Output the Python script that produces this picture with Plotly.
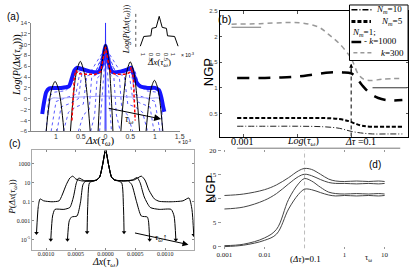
import plotly.graph_objects as go

W, H = 415, 272
def px(x): return x / W
def py(y): return 1 - y / H

SERIF = "Liberation Serif, DejaVu Serif, serif"
SANS = "Liberation Sans, Arial, sans-serif"

# ---------------- Panel (a) data (x in units of 1e-3) ----------------
a_black_x = [-1.20, -1.146, -1.092, -1.02, -0.948, -0.894, -0.84, None,
             -0.71, -0.65, -0.59, -0.51, -0.43, -0.37, -0.31, None,
             -0.15, -0.105, -0.06, 0.0, 0.06, 0.105, 0.15, None,
             0.31, 0.367, 0.424, 0.50, 0.576, 0.633, 0.69, None,
             0.82, 0.871, 0.922, 0.99, 1.058, 1.109, 1.16]
a_black_y = [-6, -1.3, 1.7, 3.2, 1.7, -1.3, -6, None,
             -6, 0.6, 4.8, 6.9, 4.8, 0.6, -6, None,
             -6, 2.2, 7.4, 10.0, 7.4, 2.2, -6, None,
             -6, 0.5, 4.75, 6.8, 4.75, 0.5, -6, None,
             -6, -1.2, 1.9, 3.4, 1.9, -1.2, -6]

a_blue_x = [-1.28, -1.25, -1.2, -1.14, -1.05, -0.9, -0.74, -0.68, -0.63, -0.58, -0.45, -0.3, -0.15,
            -0.08, -0.03, 0, 0.03, 0.08, 0.15, 0.3, 0.45, 0.52, 0.57, 0.63, 0.7, 0.85, 1.0, 1.08,
            1.13, 1.16, 1.19]
a_blue_y = [-2.8, -1.0, 1.2, 1.9, 2.0, 2.0, 2.3, 3.8, 5.2, 5.7, 5.4, 5.0, 4.9, 6.0, 8.5, 9.8, 8.5,
            6.0, 4.9, 5.0, 5.4, 5.7, 4.4, 3.0, 2.3, 2.0, 2.0, 1.6, 0.2, -1.2, -2.4]

a_red_x = [-0.68, -0.66, -0.63, -0.6, -0.55, -0.4, -0.2, -0.1, -0.05, 0, 0.05, 0.1, 0.2, 0.4,
           0.48, 0.52, 0.56, 0.58, 0.6]
a_red_y = [-4, 0, 4, 5.2, 4.6, 4.5, 4.5, 5, 7, 9.5, 7, 5, 4.5, 4.5, 4.8, 5.8, 4, 0, -4]

a_dot_x = [
    [-1.2, -1.15, -1.05, -0.8, -0.66, -0.6, -0.5, -0.3, -0.1, 0, 0.1, 0.3, 0.5, 0.6, 0.66, 0.8, 1.05, 1.12, 1.15],
    [-1.1, -1.0, -0.8, -0.6, -0.52, -0.4, -0.2, 0, 0.2, 0.4, 0.52, 0.6, 0.8, 1.0, 1.1],
    [-0.98, -0.9, -0.7, -0.55, -0.48, -0.3, 0, 0.3, 0.48, 0.55, 0.7, 0.9, 0.98],
    [-0.85, -0.75, -0.6, -0.45, -0.38, -0.2, 0, 0.2, 0.38, 0.45, 0.6, 0.75, 0.85],
    [-0.55, -0.45, -0.33, -0.28, -0.15, 0, 0.15, 0.28, 0.33, 0.45, 0.55],
    [-0.3, -0.22, -0.17, -0.1, 0, 0.1, 0.17, 0.22, 0.3],
    [-0.12, -0.08, -0.04, 0, 0.04, 0.08, 0.12],
]
a_dot_y = [
    [-6, 0.3, 1.2, 1.5, 3, 5, 5.2, 5, 5.2, 9.6, 5.2, 5, 5.2, 5, 3, 1.5, 1.2, 0.3, -6],
    [-6, -0.5, 0.2, 0.8, 4.8, 5.1, 5, 9.5, 5, 5.1, 4.8, 0.8, 0.2, -0.5, -6],
    [-6, -1.5, -0.8, 0, 4.5, 5, 9.4, 5, 4.5, 0, -0.8, -1.5, -6],
    [-6, -2.5, -1.5, -1, 4.2, 4.8, 9.3, 4.8, 4.2, -1, -1.5, -2.5, -6],
    [-6, -3, -2, 4, 4.6, 9.2, 4.6, 4, -2, -3, -6],
    [-6, -3, 3.8, 4.4, 9, 4.4, 3.8, -3, -6],
    [-6, -1, 5, 8.8, 5, -1, -6],
]
a_lav_x = [-1.15, -1.1, -0.9, -0.6, -0.3, 0, 0.3, 0.6, 0.9, 1.1, 1.15]
a_lav_y = [-3, 0, 0.1, 0.3, 0.4, 0.5, 0.4, 0.3, 0.1, 0, -3]
a_spike_x = [-0.01, 0, 0.01]
a_spike_y = [-6, 14, -6]

a_xticks = [-1, -0.5, 0, 0.5, 1, 1.5]
a_xticktext = ["1", "0.5", "0", "0.5", "1", "1.5"]

inset_x = [-1.25, -1.02, -0.55, -0.48, -0.2, -0.1, 0, 0.1, 0.2, 0.48, 0.55, 1.02, 1.25]
inset_y = [0, 3, 3.2, 5.5, 5.8, 7.5, 9.2, 7.5, 5.8, 5.5, 3.2, 3, 0]
inset_xticks = [-1, -0.5, 0, 0.5, 1]
inset_xticktext = ["1", "0.5", "0", "0.5", "1"]

# ---------------- Panel (b) data ----------------
b_n10_x = [0.00075, 0.003, 0.01, 0.03, 0.06, 0.1, 0.15, 0.25, 0.5, 0.9]
b_n10_y = [0.25, 0.25, 0.25, 0.24, 0.21, 0.15, 0.12, 0.1, 0.1, 0.1]
b_n5_x = [0.00075, 0.003, 0.01, 0.03, 0.06, 0.09, 0.12, 0.16, 0.25, 0.5, 0.9]
b_n5_y = [0.41, 0.41, 0.41, 0.41, 0.39, 0.35, 0.3, 0.26, 0.24, 0.24, 0.24]
b_k1000_x = [0.00075, 0.002, 0.005, 0.01, 0.02, 0.04, 0.07, 0.1, 0.12, 0.16, 0.22, 0.32, 0.45, 0.6, 0.9]
b_k1000_y = [1.19, 1.19, 1.2, 1.22, 1.26, 1.3, 1.3, 1.28, 1.22, 1.05, 0.9, 0.8, 0.76, 0.75, 0.76]
b_k300_x = [0.00059, 0.002, 0.006, 0.0126, 0.025, 0.039, 0.059, 0.089, 0.105, 0.135, 0.17, 0.23, 0.39, 0.89]
b_k300_y = [2.24, 2.25, 2.27, 2.26, 2.18, 2.03, 1.87, 1.65, 1.53, 1.27, 1.17, 1.14, 1.17, 1.18]
b_ref1_x = [0.00059, 0.0021]
b_ref1_y = [2.18, 2.18]
b_ref2_x = [0.25, 1.1]
b_ref2_y = [1.0, 1.0]
b_vline_x = [0.1, 0.1]
b_vline_y = [0.05, 1.45]
b_ytick = [0.5, 1, 1.5, 2, 2.5]
b_xtick = [0.001, 0.01, 0.1]
b_xticktext = ["0.001", "<i>Log</i>(<i>τ<sub>ω</sub></i>)", "<i>Δτ</i> =0.1"]

# ---------------- Panel (c) data (log10 P values) ----------------
c1_x = [-0.00116, -0.00113, -0.00110, -0.00104, -0.00090, -0.00078, -0.00073, -0.00066, -0.00060,
        -0.00055, -0.00050, -0.00040, -0.00025, -0.00015, -0.00010, -0.00005, 0, 0.00005, 0.00010,
        0.00015, 0.00030, 0.00048, 0.00060, 0.00066, 0.00073, 0.00082, 0.00090, 0.00110, 0.00130,
        0.00140, 0.00145, 0.00148]
c1_y = [-4.3, -1.5, -0.7, -0.9, -1.0, -0.9, -0.3, 0.8, 1.5, 1.7, 1.4, 1.2, 1.2, 1.3, 1.6, 2.9, 4.45,
        2.9, 1.6, 1.3, 1.2, 1.3, 1.7, 1.3, 0.2, -0.7, -0.95, -1.0, -0.9, -0.6, -1.8, -4.5]
c2_x = [-0.00092, -0.00089, -0.00085, -0.00070, -0.00060, -0.00054, -0.00049, -0.00045, -0.00035,
        -0.00020, -0.00015, -0.0001, -0.00005, 0, 0.00005, 0.0001, 0.00015, 0.0003, 0.00045,
        0.00053, 0.00058, 0.00065, 0.00075, 0.0009, 0.0011, 0.00115, 0.00118]
c2_y = [-5.0, -2.5, -1.8, -1.8, -1.6, -0.5, 1.0, 1.5, 1.2, 1.2, 1.3, 1.6, 2.9, 4.45, 2.9, 1.6, 1.3,
        1.2, 1.3, 1.55, 1.0, -0.5, -1.6, -1.8, -1.8, -2.5, -5.0]
c3_x = [-0.00064, -0.00061, -0.00057, -0.00048, -0.00042, -0.00038, -0.00033, -0.00020, -0.00015,
        -0.0001, -0.00005, 0, 0.00005, 0.0001, 0.00015, 0.0003, 0.00038, 0.00044, 0.00052, 0.0006,
        0.0007, 0.00072, 0.00074]
c3_y = [-5.0, -3.0, -2.6, -2.5, -1.0, 0.8, 1.2, 1.2, 1.3, 1.6, 2.9, 4.45, 2.9, 1.6, 1.3, 1.2, 1.2,
        0.8, -1.0, -2.5, -2.6, -3.0, -5.0]
c4_x = [-0.00031, -0.00030, -0.00027, -0.0002, -0.00015, -0.0001, -0.00005, 0, 0.00005, 0.0001,
        0.00015, 0.0002, 0.00027, 0.0003, 0.00031]
c4_y = [-4.2, -1.5, 1.0, 1.2, 1.3, 1.6, 2.9, 4.45, 2.9, 1.6, 1.3, 1.2, 1.0, -1.5, -4.2]
c_xticks = [-0.001, -0.0005, 0, 0.0005, 0.001]
c_xticktext = ["0.0010", "0.0005", "0.0000", "0.0005", "0.0010"]
c_yticks = [1e3, 10, 0.1, 1e-3, 1e-5]
c_yticktext = ["1000", "10", "0.1", "0.001", "10<sup>-5</sup>"]

# ---------------- Panel (d) data ----------------
d_x = [0.001, 0.003, 0.01, 0.02, 0.04, 0.07, 0.1, 0.15, 0.25, 0.4, 0.6, 1, 2, 4, 7, 10]
d_A = [10.6, 10.9, 11.8, 12.8, 14.3, 15.7, 16.2, 16.0, 15.0, 14.0, 13.6, 13.5, 13.6, 13.5, 13.6, 13.5]
d_B = [7.8, 8.2, 9.6, 11.0, 13.0, 14.5, 15.0, 14.7, 13.9, 13.3, 13.1, 13.1, 13.0, 13.1, 13.0, 13.1]
d_C = [0.2, 0.5, 1.8, 3.6, 9.8, 13.0, 14.1, 13.6, 12.3, 11.3, 11.0, 10.9, 11.0, 10.9, 11.0, 10.9]
d_D = [0.0, 0.3, 1.3, 2.6, 7.8, 10.8, 11.9, 11.8, 11.2, 10.7, 10.5, 10.6, 10.5, 10.6, 10.5, 10.6]
d_vline_x = [0.1, 0.1]
d_vline_y = [-0.4, 20]
d_xticks = [0.001, 0.01, 1, 10]
d_xticktext = ["0.001", "0.01", "1", "10"]
d_yticks = [0, 5, 10, 15, 20]

fig = go.Figure()

# ----- (a) traces -----
for xs, ys in zip(a_dot_x, a_dot_y):
    fig.add_trace(go.Scatter(x=xs, y=ys, mode="lines", xaxis="x", yaxis="y",
                             line=dict(color="rgba(50,50,255,0.8)", width=1, dash="dot")))
fig.add_trace(go.Scatter(x=a_lav_x, y=a_lav_y, mode="lines", xaxis="x", yaxis="y",
                         line=dict(color="#a0a0ff", width=1, shape="spline")))
fig.add_trace(go.Scatter(x=a_blue_x, y=a_blue_y, mode="lines", xaxis="x", yaxis="y",
                         line=dict(color="#1515ff", width=4, shape="spline", smoothing=0.6)))
fig.add_trace(go.Scatter(x=a_spike_x, y=a_spike_y, mode="lines", xaxis="x", yaxis="y",
                         line=dict(color="#3030ff", width=1)))
fig.add_trace(go.Scatter(x=a_black_x, y=a_black_y, mode="lines", xaxis="x", yaxis="y",
                         line=dict(color="black", width=1, shape="spline", smoothing=0.8)))
fig.add_trace(go.Scatter(x=a_red_x, y=a_red_y, mode="lines", xaxis="x", yaxis="y",
                         line=dict(color="red", width=1.5, dash="3px,2px")))
fig.add_trace(go.Scatter(x=inset_x, y=inset_y, mode="lines", xaxis="x5", yaxis="y5",
                         line=dict(color="black", width=1)))

# ----- (b) traces -----
fig.add_trace(go.Scatter(x=b_ref1_x, y=b_ref1_y, mode="lines", xaxis="x2", yaxis="y2",
                         line=dict(color="#777", width=1)))
fig.add_trace(go.Scatter(x=b_ref2_x, y=b_ref2_y, mode="lines", xaxis="x2", yaxis="y2",
                         line=dict(color="#333", width=1)))
fig.add_trace(go.Scatter(x=b_k300_x, y=b_k300_y, mode="lines", xaxis="x2", yaxis="y2",
                         line=dict(color="#999", width=1.5, dash="5px,4px", shape="spline")))
fig.add_trace(go.Scatter(x=b_k1000_x, y=b_k1000_y, mode="lines", xaxis="x2", yaxis="y2",
                         line=dict(color="black", width=2.5, dash="12px,9px", shape="spline")))
fig.add_trace(go.Scatter(x=b_n5_x, y=b_n5_y, mode="lines", xaxis="x2", yaxis="y2",
                         line=dict(color="black", width=2, dash="4px,2px", shape="spline")))
fig.add_trace(go.Scatter(x=b_n10_x, y=b_n10_y, mode="lines", xaxis="x2", yaxis="y2",
                         line=dict(color="#222", width=1, dash="6px,2px,1px,2px", shape="spline")))
fig.add_trace(go.Scatter(x=b_vline_x, y=b_vline_y, mode="lines", xaxis="x2", yaxis="y2",
                         line=dict(color="black", width=1, dash="4px,3px")))

# ----- (c) traces -----
c_curves = [(c1_x, c1_y), (c2_x, c2_y), (c3_x, c3_y), (c4_x, c4_y)]
for xs, ys in c_curves:
    fig.add_trace(go.Scatter(x=xs, y=[10 ** v for v in ys], mode="lines", xaxis="x3", yaxis="y3",
                             line=dict(color="black", width=1, shape="spline", smoothing=0.6)))
c_end_x = [p for xs, _ in c_curves for p in (xs[0], xs[-1])]
c_end_y = [10 ** p for _, ys in c_curves for p in (ys[0], ys[-1])]
fig.add_trace(go.Scatter(x=c_end_x, y=c_end_y, mode="markers", xaxis="x3", yaxis="y3",
                         marker=dict(symbol="triangle-down", size=4, color="black")))

# ----- (d) traces -----
fig.add_trace(go.Scatter(x=d_vline_x, y=d_vline_y, mode="lines", xaxis="x4", yaxis="y4",
                         line=dict(color="#bbb", width=1, dash="4px,3px")))
for ys in [d_A, d_B, d_C, d_D]:
    fig.add_trace(go.Scatter(x=d_x, y=ys, mode="lines", xaxis="x4", yaxis="y4",
                             line=dict(color="#444", width=1, shape="spline")))

tick_sans = dict(family=SANS, size=6, color="#444")
tick_serif = dict(family=SERIF, size=7, color="#222")

layout = dict(
    width=W, height=H, margin=dict(l=0, r=0, t=0, b=0),
    paper_bgcolor="white", plot_bgcolor="rgba(0,0,0,0)", showlegend=False, hovermode=False,
    xaxis=dict(domain=[px(27), px(179)], range=[-1.5, 1.5], tickvals=a_xticks, ticktext=a_xticktext,
               showline=True, linecolor="#888", linewidth=1, ticks="inside", ticklen=2, tickcolor="#888",
               showgrid=False, zeroline=False, tickfont=dict(family=SANS, size=7, color="#333"),
               ticklabelstandoff=-2, anchor="y"),
    yaxis=dict(domain=[py(130.7), py(19.3)], range=[-6, 14], dtick=2, showline=True, linecolor="#888",
               ticks="outside", ticklen=2, tickcolor="#888", showgrid=False, zeroline=False,
               tickfont=tick_sans, anchor="x"),
    xaxis5=dict(domain=[px(136), px(180)], range=[-1.42, 1.42], tickvals=inset_xticks,
                ticktext=inset_xticktext, showline=False, ticks="", showgrid=False, zeroline=False,
                tickfont=dict(family=SANS, size=6, color="#333"), anchor="y5"),
    yaxis5=dict(domain=[py(46), py(8)], range=[-0.8, 10.6], showticklabels=False, showline=False,
                ticks="", showgrid=False, zeroline=False, anchor="x5"),
    xaxis2=dict(domain=[px(220), px(413)], type="log", range=[-3.45, 0.06], tickvals=b_xtick,
                showticklabels=False, showline=True, mirror="ticks", linecolor="black", linewidth=1,
                ticks="inside", ticklen=3, tickcolor="#555", showgrid=False, zeroline=False,
                anchor="y2"),
    yaxis2=dict(domain=[py(136), py(7)], range=[0.05, 2.5], tickvals=b_ytick, showline=True,
                mirror="ticks", linecolor="black", linewidth=1, ticks="inside", ticklen=2,
                tickcolor="#555", showgrid=False, zeroline=False, tickfont=tick_sans, anchor="x2"),
    xaxis3=dict(domain=[px(28), px(194)], range=[-0.00123, 0.00149], tickvals=c_xticks,
                ticktext=c_xticktext, showline=True, mirror="ticks", linecolor="#aaa", ticks="inside",
                ticklen=2, tickcolor="#888", showgrid=False, zeroline=False, ticklabelstandoff=-2,
                tickfont=dict(family=SERIF, size=6, color="#222"), anchor="y3"),
    yaxis3=dict(domain=[py(252), py(150)], type="log", range=[-6.03, 4.44], tickvals=c_yticks,
                ticktext=c_yticktext, showline=True, mirror="ticks", linecolor="#aaa", ticks="inside",
                ticklen=2, tickcolor="#888", showgrid=False, zeroline=False,
                tickfont=dict(family=SERIF, size=6, color="#222"), anchor="x3"),
    xaxis4=dict(domain=[px(222), px(405)], type="log", range=[-3.07, 1.39], tickvals=d_xticks,
                ticktext=d_xticktext, showline=False, ticks="inside", ticklen=2, tickcolor="#999",
                mirror="ticks", showgrid=False, zeroline=False, tickfont=tick_serif, anchor="y4"),
    yaxis4=dict(domain=[py(251), py(150)], range=[-0.4, 20], tickvals=d_yticks, showline=False,
                ticks="outside", ticklen=3, tickcolor="#999", showgrid=False, zeroline=False,
                tickfont=tick_serif, anchor="x4"),
)

shapes = [
    # (b) legend box
    dict(type="rect", xref="paper", yref="paper", x0=px(353), x1=px(413), y0=py(58), y1=py(1),
         line=dict(color="black", width=1), fillcolor="white", layer="above"),
    dict(type="line", xref="paper", yref="paper", x0=px(355), x1=px(376), y0=py(6), y1=py(6),
         line=dict(color="black", width=1.5, dash="6px,2px,1px,2px"), layer="above"),
    dict(type="line", xref="paper", yref="paper", x0=px(355), x1=px(375), y0=py(18), y1=py(18),
         line=dict(color="black", width=3, dash="4px,2px"), layer="above"),
    dict(type="line", xref="paper", yref="paper", x0=px(355), x1=px(365), y0=py(39), y1=py(39),
         line=dict(color="black", width=2.5), layer="above"),
    dict(type="line", xref="paper", yref="paper", x0=px(357), x1=px(378), y0=py(50), y1=py(50),
         line=dict(color="#999", width=1.5, dash="4px,3px"), layer="above"),
    # separator / top line of (d)
    dict(type="line", xref="paper", yref="paper", x0=px(238), x1=px(405), y0=py(148), y1=py(148),
         line=dict(color="#777", width=1)),
    # inset dotted y axis
    dict(type="line", xref="paper", yref="paper", x0=px(134), x1=px(134), y0=py(44), y1=py(7),
         line=dict(color="#555", width=1, dash="dot")),
]
layout["shapes"] = shapes


def ann(x, y, text, size=10, family=SERIF, angle=0, xanchor="center", color="black"):
    return dict(x=px(x), y=py(y), xref="paper", yref="paper", text=text, showarrow=False,
                font=dict(family=family, size=size, color=color), textangle=angle,
                xanchor=xanchor, yanchor="middle", borderpad=0)


NM = "<i>N<sub>m</sub></i>"
TW = "<i>τ<sub>ω</sub></i>"
annotations = [
    ann(8, 13, "(a)", 10, SANS),
    ann(225, 15, "(b)", 11, SANS),
    ann(10, 143, "(c)", 10, SANS),
    ann(379, 165, "(d)", 10, SANS),
    ann(13, 63, "<i>Log</i>(<i>P</i>(<i>Δx</i>(" + TW + ")))", 10, SERIF, -90),
    ann(97, 141, "<i>Δx</i>(" + TW + ")", 11),
    ann(184, 142, "× 10<sup>-3</sup>", 5, SANS),
    ann(125, 26, "<i>Log</i>(<i>P</i>(<i>Δx</i>(" + TW + ")))", 8, SERIF, -90),
    ann(158, 60, "<i>Δx</i>(" + TW + ")", 9),
    ann(187, 52, "× 10<sup>-3</sup>", 5, SANS),
    ann(128, 119, TW, 10),
    ann(208, 70, "NGP", 13, SANS, -90),
    ann(210, 190, "NGP", 13, SANS, -90),
    ann(8, 198, "<i>P</i>(<i>Δx</i>(" + TW + "))", 9, SERIF, -90),
    ann(103, 265, "<i>Δx</i>(" + TW + ")", 10),
    ann(160, 240, TW + "↑", 9),
    # (b) bottom labels
    ann(243, 141, "0.001", 10),
    ann(305, 141, b_xticktext[1], 10),
    ann(364, 141, b_xticktext[2], 10),
    # (d) bottom labels
    ann(308, 262, "(<i>Δτ</i>)=0.1", 9),
    ann(372, 261, "τ<sub>ω</sub>", 8, SERIF),
    # legend texts
    ann(379, 6, NM + "=10", 9, SERIF, xanchor="left"),
    ann(384, 18, NM + "=5", 9, SERIF, xanchor="left"),
    ann(355, 29, NM + "=1;", 9, SERIF, xanchor="left"),
    ann(367, 38, "- <i>k</i>=1000", 9, SERIF, xanchor="left"),
    ann(384, 50, "<i>k</i>=300", 9, SERIF, xanchor="left"),
    # arrows
    dict(x=px(160), y=py(118), xref="paper", yref="paper", ax=-54, ay=-11, showarrow=True,
         arrowhead=2, arrowsize=1.4, arrowwidth=1, arrowcolor="black", text=""),
    dict(x=px(188), y=py(247), xref="paper", yref="paper", ax=-55, ay=-12, showarrow=True,
         arrowhead=2, arrowsize=1.2, arrowwidth=1, arrowcolor="black", text=""),
    dict(x=-1, y=1.47, xref="x2", yref="y2", ax=0, ay=10, showarrow=True,
         arrowhead=2, arrowsize=0.8, arrowwidth=1, arrowcolor="black", text=""),
]
layout["annotations"] = annotations

fig.update_layout(**layout)
fig.write_html("out.html", config={"displayModeBar": False, "staticPlot": True},
               post_script="document.body.style.margin='0px';document.body.style.padding='0px';")
